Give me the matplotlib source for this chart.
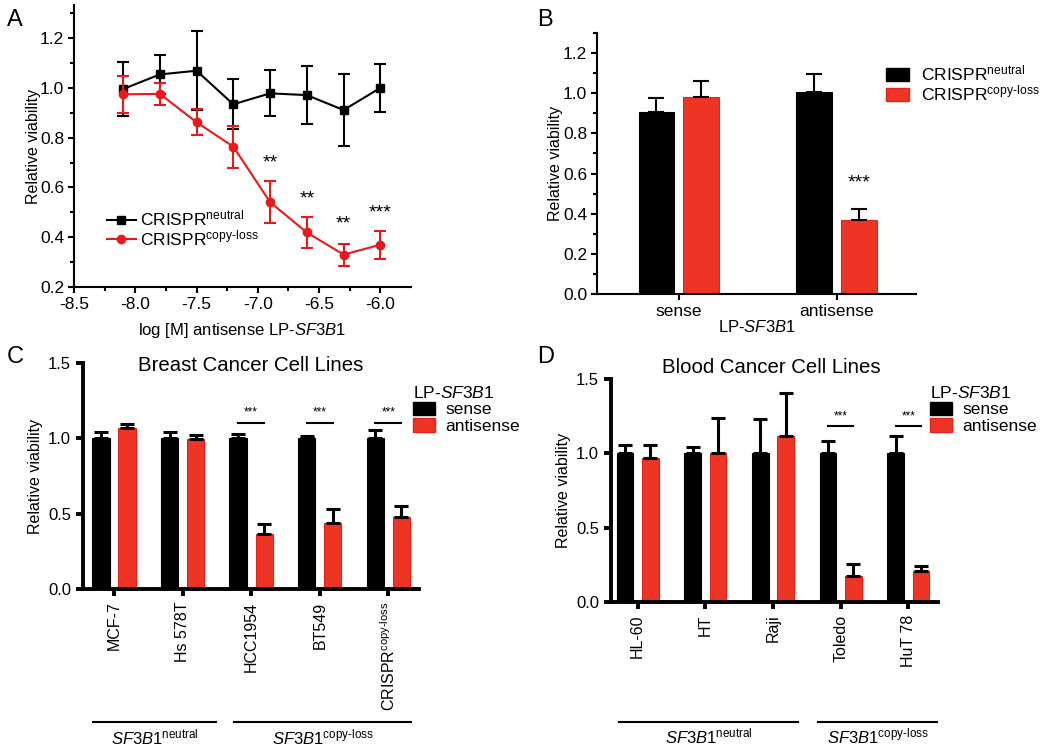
import matplotlib
matplotlib.use("Agg")
import matplotlib.pyplot as plt
import matplotlib.transforms as mtransforms
from matplotlib.patches import Patch
from matplotlib.lines import Line2D
import numpy as np

plt.rcParams['font.family'] = ['Liberation Sans', 'DejaVu Sans']
plt.rcParams['mathtext.fontset'] = 'custom'
plt.rcParams['mathtext.rm'] = 'Liberation Sans'
plt.rcParams['mathtext.it'] = 'Liberation Sans:italic'
plt.rcParams['mathtext.bf'] = 'Liberation Sans:bold'

RED = '#EE3524'
RED_EDGE = '#E8201A'
LINE_RED = '#E8191B'

# ---------------- Data ----------------
# Panel A
logM = [-8.1, -7.8, -7.5, -7.2, -6.9, -6.6, -6.3, -6.0]
a_neutral = [0.995, 1.054, 1.069, 0.934, 0.978, 0.971, 0.911, 1.000]
a_neutral_err = [0.108, 0.078, 0.158, 0.101, 0.092, 0.118, 0.144, 0.096]
a_loss = [0.974, 0.976, 0.862, 0.764, 0.541, 0.419, 0.330, 0.370]
a_loss_err = [0.074, 0.045, 0.052, 0.084, 0.083, 0.063, 0.044, 0.056]
a_stars = ['', '', '', '', '**', '**', '**', '***']
a_star_y = [0, 0, 0, 0, 0.697, 0.553, 0.453, 0.497]

# Panel B
b_cats = ['sense', 'antisense']
b_neutral = [0.907, 1.005]
b_neutral_err = [0.070, 0.092]
b_loss = [0.983, 0.368]
b_loss_err = [0.077, 0.055]

# Panel C
c_cats = ['MCF-7', 'Hs 578T', 'HCC1954', 'BT549', r'CRISPR$^{\mathrm{copy\text{-}loss}}$']
c_sense = [1.0, 1.0, 1.0, 1.0, 1.0]
c_sense_err = [0.045, 0.045, 0.029, 0.016, 0.058]
c_anti = [1.067, 0.993, 0.362, 0.436, 0.479]
c_anti_err = [0.027, 0.029, 0.070, 0.094, 0.074]
c_sig = [False, False, True, True, True]

# Panel D
d_cats = ['HL-60', 'HT', 'Raji', 'Toledo', 'HuT 78']
d_sense = [1.0, 1.0, 1.0, 1.0, 1.0]
d_sense_err = [0.054, 0.045, 0.229, 0.085, 0.115]
d_anti = [0.971, 1.004, 1.119, 0.178, 0.207]
d_anti_err = [0.087, 0.234, 0.290, 0.076, 0.036]
d_sig = [False, False, False, True, True]

fig = plt.figure(figsize=(10.5, 7.55), dpi=100)

def fr(l, t, r, b):
    return [l / 1050, 1 - b / 755, (r - l) / 1050, (b - t) / 755]

# ---------------- Panel A ----------------
axA = fig.add_axes(fr(74, 5, 411, 287))
axA.errorbar(logM, a_neutral, yerr=a_neutral_err, color='black', marker='s', ms=5.5,
             lw=1.5, elinewidth=1.5, capsize=4, capthick=1.5, zorder=3)
axA.errorbar(logM, a_loss, yerr=a_loss_err, color=LINE_RED, marker='o', ms=6,
             lw=1.5, elinewidth=1.5, capsize=4, capthick=1.5, zorder=4)
for x, s, y in zip(logM, a_stars, a_star_y):
    if s:
        axA.text(x, y, s, ha='center', va='center', fontsize=14)
axA.set_xlim(-8.5, -5.75)
axA.set_ylim(0.2, 1.333)
axA.set_xticks([-8.5, -8.0, -7.5, -7.0, -6.5, -6.0])
axA.set_xticklabels(['-8.5', '-8.0', '-7.5', '-7.0', '-6.5', '-6.0'])
axA.set_xticks(np.arange(-8.25, -5.8, 0.5), minor=True)
axA.set_yticks([0.2, 0.4, 0.6, 0.8, 1.0, 1.2])
axA.set_yticks(np.arange(0.3, 1.31, 0.2), minor=True)
axA.spines['top'].set_visible(False)
axA.spines['right'].set_visible(False)
for sp in ['left', 'bottom']:
    axA.spines[sp].set_linewidth(1.5)
axA.tick_params(which='major', direction='out', length=4.5, width=1.5, labelsize=12.5, pad=2.5)
axA.tick_params(which='minor', direction='out', length=3, width=1.5)
axA.set_ylabel('Relative viability', fontsize=11.5, labelpad=-1)
axA.set_xlabel(r'log [M] antisense LP-$\mathit{SF3B1}$', fontsize=12, labelpad=7)
handlesA = [Line2D([], [], color='black', marker='s', ms=5.5, lw=1.5),
            Line2D([], [], color=LINE_RED, marker='o', ms=6, lw=1.5)]
axA.legend(handlesA, [r'CRISPR$^{\mathrm{neutral}}$', r'CRISPR$^{\mathrm{copy\text{-}loss}}$'],
           loc='upper left', bbox_to_anchor=(98 / 1050, 1 - 200 / 755),
           bbox_transform=fig.transFigure, frameon=False, fontsize=12.5,
           handlelength=1.7, handletextpad=0.2, labelspacing=0.0, borderpad=0)
fig.text(7 / 1050, 1 - 20 / 755, 'A', fontsize=17, va='center', ha='left')

# ---------------- Panel B ----------------
axB = fig.add_axes(fr(597, 33, 916, 294))
xb = np.arange(len(b_cats))
wb = 0.226
offb = 0.1416
axB.bar(xb - offb, b_neutral, wb, color='black', edgecolor='black', lw=0.8)
axB.bar(xb + offb, b_loss, wb, color=RED, edgecolor=RED_EDGE, lw=0.8)
axB.errorbar(xb - offb, b_neutral, yerr=[[0] * 2, b_neutral_err], fmt='none',
             ecolor='black', elinewidth=1.5, capsize=6, capthick=1.5)
axB.errorbar(xb + offb, b_loss, yerr=[[0] * 2, b_loss_err], fmt='none',
             ecolor='black', elinewidth=1.5, capsize=6, capthick=1.5)
axB.text(xb[1] + offb, 0.553, '***', ha='center', va='center', fontsize=14)
axB.set_xlim(-0.518, 1.503)
axB.set_ylim(0, 1.3)
axB.set_xticks(xb)
axB.set_xticklabels(b_cats)
axB.set_yticks([0.0, 0.2, 0.4, 0.6, 0.8, 1.0, 1.2])
axB.set_yticks(np.arange(0.1, 1.31, 0.2), minor=True)
axB.spines['top'].set_visible(False)
axB.spines['right'].set_visible(False)
for sp in ['left', 'bottom']:
    axB.spines[sp].set_linewidth(1.5)
axB.tick_params(which='major', direction='out', length=4.5, width=1.5, labelsize=12.5, pad=2.5)
axB.tick_params(which='minor', direction='out', length=3, width=1.5)
axB.set_ylabel('Relative viability', fontsize=11.5, labelpad=0)
axB.set_xlabel(r'LP-$\mathit{SF3B1}$', fontsize=12, labelpad=0)
handlesB = [Patch(facecolor='black', edgecolor='black'),
            Patch(facecolor=RED, edgecolor=RED_EDGE)]
axB.legend(handlesB, [r'CRISPR$^{\mathrm{neutral}}$', r'CRISPR$^{\mathrm{copy\text{-}loss}}$'],
           loc='upper left', bbox_to_anchor=(877 / 1050, 1 - 55 / 755),
           bbox_transform=fig.transFigure, frameon=False, fontsize=12.5,
           handlelength=1.35, handleheight=0.85, handletextpad=0.7, labelspacing=0.0,
           borderpad=0)
fig.text(537 / 1050, 1 - 20 / 755, 'B', fontsize=17, va='center', ha='left')


def grouped(ax, cats, sense, sense_err, anti, anti_err, sig, sig_y, off, w):
    x = np.arange(len(cats))
    ax.bar(x - off, sense, w, color='black', edgecolor='black', lw=0.8)
    ax.bar(x + off, anti, w, color=RED, edgecolor=RED_EDGE, lw=0.8)
    ax.errorbar(x - off, sense, yerr=[[0] * len(x), sense_err], fmt='none',
                ecolor='black', elinewidth=2.2, capsize=5, capthick=2.2)
    ax.errorbar(x + off, anti, yerr=[[0] * len(x), anti_err], fmt='none',
                ecolor='black', elinewidth=2.2, capsize=5, capthick=2.2)
    for xi, s in zip(x, sig):
        if s:
            ax.plot([xi - off, xi + off], [sig_y, sig_y], color='black', lw=1.5)
            ax.text(xi, sig_y + 0.025, '***', ha='center', va='bottom', fontsize=8.5)
    ax.set_xticks(x)
    ax.set_xticklabels(cats, rotation=90, fontsize=11.5)
    ax.set_ylim(0, 1.5)
    ax.set_yticks([0.0, 0.5, 1.0, 1.5])
    ax.spines['top'].set_visible(False)
    ax.spines['right'].set_visible(False)
    for sp in ['left', 'bottom']:
        ax.spines[sp].set_linewidth(2.8)
    ax.tick_params(which='major', direction='out', length=5, width=2.8, labelsize=12)
    ax.tick_params(axis='x', labelsize=11.5, pad=4)
    ax.set_ylabel('Relative viability', fontsize=11.5, labelpad=4)


# ---------------- Panel C ----------------
axC = fig.add_axes(fr(83, 363, 419, 589))
grouped(axC, c_cats, c_sense, c_sense_err, c_anti, c_anti_err, c_sig, 1.105, 0.19, 0.253)
axC.set_xlim(-0.452, 4.447)
axC.text(0.5, 0.99, 'Breast Cancer Cell Lines', transform=axC.transAxes,
         ha='center', va='center', fontsize=14.7)
trC = mtransforms.blended_transform_factory(axC.transData, axC.transAxes)
axC.plot([-0.31, 1.49], [-0.588, -0.588], color='black', lw=1.5, transform=trC, clip_on=False)
axC.plot([1.75, 4.33], [-0.588, -0.588], color='black', lw=1.5, transform=trC, clip_on=False)
axC.text(0.59, -0.655, r'$\mathit{SF3B1}^{\mathrm{neutral}}$', transform=trC, ha='center',
         va='center', fontsize=12)
axC.text(3.04, -0.655, r'$\mathit{SF3B1}^{\mathrm{copy\text{-}loss}}$', transform=trC,
         ha='center', va='center', fontsize=12)
handlesC = [Patch(facecolor='black', edgecolor='black'), Patch(facecolor=RED, edgecolor=RED_EDGE)]
axC.legend(handlesC, ['sense', 'antisense'], title=r'LP-$\mathit{SF3B1}$',
           loc='upper left', bbox_to_anchor=(404 / 1050, 1 - 376 / 755),
           bbox_transform=fig.transFigure, frameon=False, fontsize=12.5,
           title_fontsize=12.5, handlelength=1.3, handleheight=0.85, handletextpad=0.6,
           labelspacing=0.05, borderpad=0, alignment='left')
fig.text(7 / 1050, 1 - 357 / 755, 'C', fontsize=17, va='center', ha='left')

# ---------------- Panel D ----------------
axD = fig.add_axes(fr(611, 379, 938, 602))
grouped(axD, d_cats, d_sense, d_sense_err, d_anti, d_anti_err, d_sig, 1.184, 0.187, 0.245)
axD.set_xlim(-0.393, 4.437)
axD.text(0.49, 1.05, 'Blood Cancer Cell Lines', transform=axD.transAxes,
         ha='center', va='center', fontsize=14.7)
trD = mtransforms.blended_transform_factory(axD.transData, axD.transAxes)
axD.plot([-0.275, 2.364], [-0.538, -0.538], color='black', lw=1.5, transform=trD, clip_on=False)
axD.plot([2.659, 4.428], [-0.538, -0.538], color='black', lw=1.5, transform=trD, clip_on=False)
axD.text(1.05, -0.605, r'$\mathit{SF3B1}^{\mathrm{neutral}}$', transform=trD, ha='center',
         va='center', fontsize=12)
axD.text(3.55, -0.605, r'$\mathit{SF3B1}^{\mathrm{copy\text{-}loss}}$', transform=trD,
         ha='center', va='center', fontsize=12)
axD.legend(handlesC, ['sense', 'antisense'], title=r'LP-$\mathit{SF3B1}$',
           loc='upper left', bbox_to_anchor=(921 / 1050, 1 - 376 / 755),
           bbox_transform=fig.transFigure, frameon=False, fontsize=12.5,
           title_fontsize=12.5, handlelength=1.3, handleheight=0.85, handletextpad=0.6,
           labelspacing=0.05, borderpad=0, alignment='left')
fig.text(537 / 1050, 1 - 357 / 755, 'D', fontsize=17, va='center', ha='left')

fig.savefig('out.png', dpi=100)
